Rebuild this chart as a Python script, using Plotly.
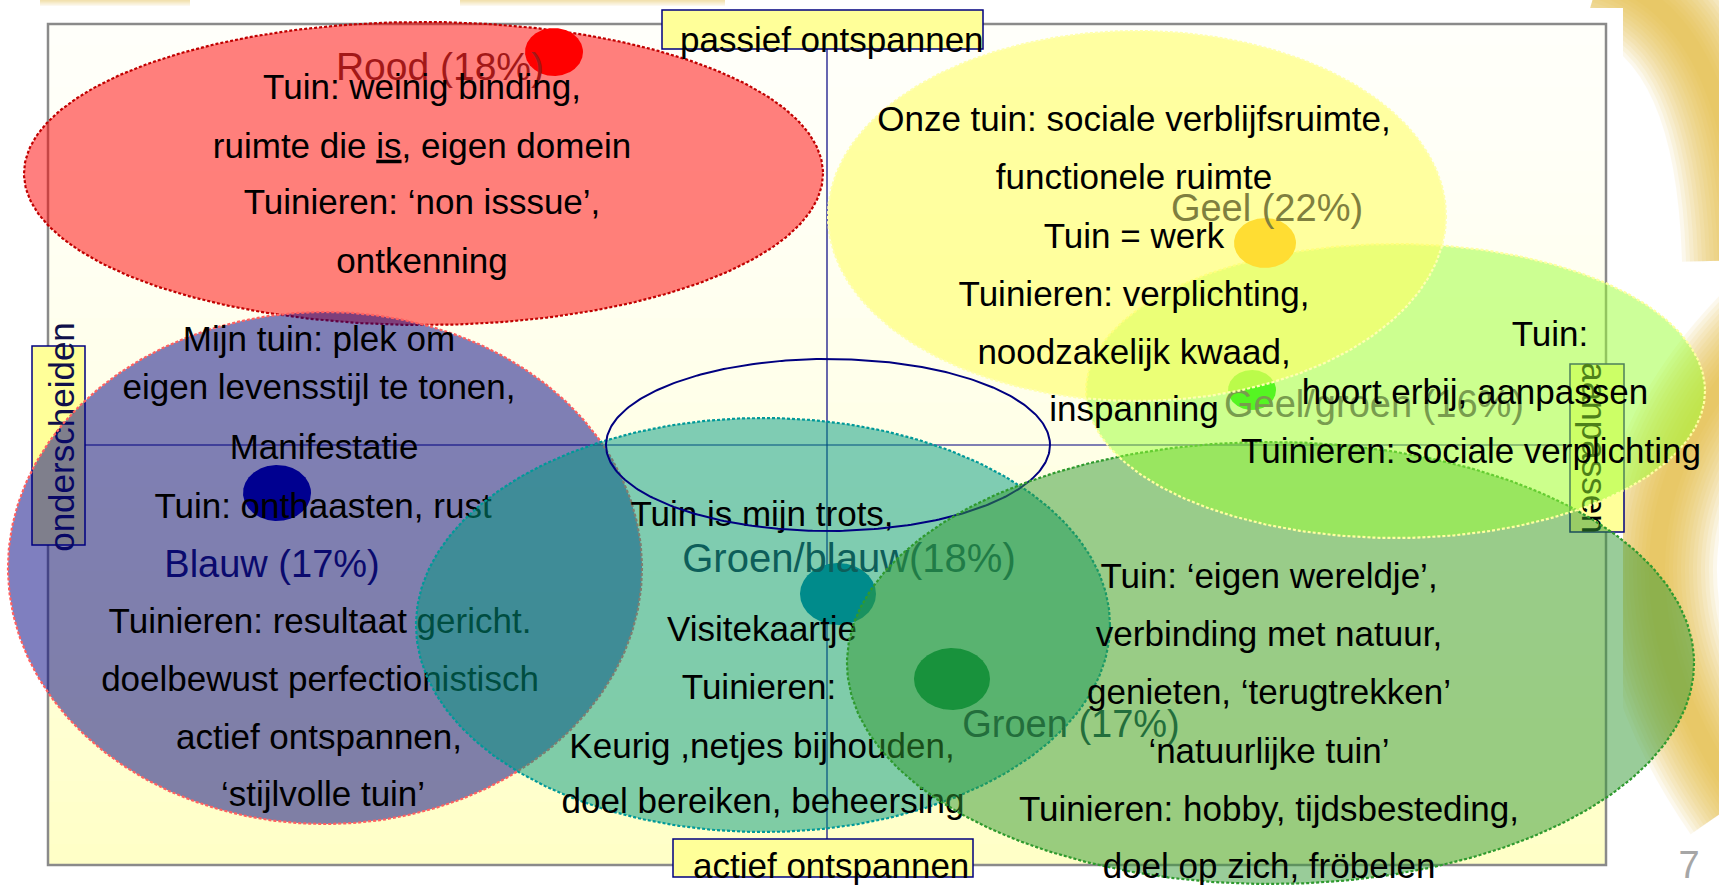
import numpy as np
import plotly.graph_objects as go

# ---------------- data ----------------
segment_names = ["Rood", "Geel", "Geel/groen", "Blauw", "Groen/blauw", "Groen"]
segment_pct = [18, 22, 16, 17, 18, 17]
# dot positions of the segments on the map (slide pixel space)
segment_dot_x = [554, 1265, 1252, 277, 838, 952]
segment_dot_y = [52, 243, 390, 493, 594, 679]

axis_top = "passief ontspannen"
axis_bottom = "actief ontspannen"
axis_left = "onderscheiden"
axis_right = "aanpassen"
slide_number = "7"

text_rood = ["Tuin: weinig binding,", "ruimte die <u>is</u>, eigen domein",
             "Tuinieren: ‘non isssue’,", "ontkenning"]
text_geel = ["Onze tuin: sociale verblijfsruimte,", "functionele ruimte", "Tuin = werk",
             "Tuinieren: verplichting,", "noodzakelijk kwaad,", "inspanning"]
text_geelgroen = ["Tuin:", "hoort erbij, aanpassen", "Tuinieren: sociale verplichting"]
text_blauw = ["Mijn tuin: plek om", "eigen levensstijl te tonen,", "Manifestatie",
              "Tuin: onthaasten, rust", "Tuinieren: resultaat gericht.",
              "doelbewust perfectionistisch", "actief ontspannen,", "‘stijlvolle tuin’"]
text_groenblauw = ["Tuin is mijn trots,", "Visitekaartje", "Tuinieren:",
                   "Keurig ,netjes bijhouden,", "doel bereiken, beheersing"]
text_groen = ["Tuin: ‘eigen wereldje’,", "verbinding met natuur,", "genieten, ‘terugtrekken’",
              "‘natuurlijke tuin’", "Tuinieren: hobby, tijdsbesteding,", "doel op zich, fröbelen"]

segment_texts = {"Rood": text_rood, "Geel": text_geel, "Geel/groen": text_geelgroen,
                 "Blauw": text_blauw, "Groen/blauw": text_groenblauw, "Groen": text_groen}

# ---------------- layout / style ----------------
W, H = 1719, 885
FONT = "Liberation Sans, Arial, sans-serif"
TEXT_DY = 3

ELLIPSE = {  # cx, cy, rx, ry
    "Rood": (423.5, 173.5, 399.5, 151.5),
    "Geel": (1137, 216, 309, 185),
    "Geel/groen": (1395.5, 391, 309.5, 147),
    "Blauw": (325, 568, 317, 256),
    "Groen/blauw": (763, 625, 347, 207),
    "Groen": (1270.5, 663, 423.5, 221),
}
DOT_R = {"Rood": (29, 24), "Geel": (31, 25), "Geel/groen": (24, 20),
         "Blauw": (34, 28), "Groen/blauw": (38, 31), "Groen": (38, 31)}
FILL = {"Rood": "rgba(255,0,0,0.5)", "Geel": "rgba(255,255,102,0.6)",
        "Geel/groen": "rgba(153,255,51,0.5)", "Blauw": "rgba(0,0,128,0.5)",
        "Groen/blauw": "rgba(0,153,128,0.5)", "Groen": "rgba(51,153,51,0.5)"}
BORDER = {"Rood": "#C00000", "Geel": "#FFFFB0", "Geel/groen": "#FFFFA0",
          "Blauw": "#FF6060", "Groen/blauw": "#009999", "Groen": "#2E9A2E"}
DOT_COLOR = {"Rood": "#FF0000", "Geel": "#FFDD33", "Geel/groen": "#55F522",
             "Blauw": "#000090", "Groen/blauw": "#008B8B", "Groen": "#18923C"}
LABEL_COLOR = {"Rood": "#A31818", "Geel": "#7F7F3F", "Geel/groen": "#789C4E",
               "Blauw": "#0A0A6E", "Groen/blauw": "#0D5E5A", "Groen": "#236E3C"}
LABEL_POS = {"Rood": (440, 67), "Geel": (1267, 208), "Geel/groen": (1374, 404),
             "Blauw": (272, 564), "Groen/blauw": (849, 559), "Groen": (1071, 724)}
LABEL_SIZE = {"Rood": 39, "Geel": 38, "Geel/groen": 38, "Blauw": 38,
              "Groen/blauw": 40, "Groen": 38}
LINES_X = {"Rood": [422] * 4, "Geel": [1134] * 6, "Geel/groen": [1550, 1475, 1471],
           "Blauw": [319, 319, 324, 323, 320, 320, 319, 323],
           "Groen/blauw": [762, 762, 759, 762, 763], "Groen": [1269] * 6}
LINES_Y = {"Rood": [87, 146, 202, 261], "Geel": [119, 177, 236, 294, 352, 409],
           "Geel/groen": [334, 392, 451],
           "Blauw": [339, 387, 447, 506, 621, 679, 737, 794],
           "Groen/blauw": [514, 629, 687, 746, 801],
           "Groen": [576, 634, 692, 751, 809, 866]}
DRAW_ORDER = ["Rood", "Blauw", "Groen/blauw", "OUTLINE", "Groen", "Geel/groen", "Geel"]

fig = go.Figure()
t = np.linspace(0, 2 * np.pi, 361)


def ellipse(cx, cy, rx, ry, fill, line_color, line_width, dash):
    fig.add_trace(go.Scatter(
        x=cx + rx * np.cos(t), y=cy + ry * np.sin(t), mode="lines",
        fill="toself" if fill else "none", fillcolor=fill,
        line=dict(color=line_color, width=line_width, dash=dash),
        hoverinfo="skip", showlegend=False))


for key in DRAW_ORDER:
    if key == "OUTLINE":
        ellipse(828, 445, 222, 86, None, "#000080", 2, "solid")
        continue
    i = segment_names.index(key)
    cx, cy, rx, ry = ELLIPSE[key]
    ellipse(cx, cy, rx, ry, FILL[key], BORDER[key], 2.2, "3px,2px")
    drx, dry = DOT_R[key]
    ellipse(segment_dot_x[i], segment_dot_y[i], drx, dry, DOT_COLOR[key], DOT_COLOR[key], 0, "solid")
    lx, ly = LABEL_POS[key]
    fig.add_trace(go.Scatter(
        x=[lx], y=[ly + TEXT_DY], mode="text",
        text=[f"{key} ({segment_pct[i]}%)" if key != "Groen/blauw" else f"{key}({segment_pct[i]}%)"],
        textposition="middle center",
        textfont=dict(family=FONT, size=LABEL_SIZE[key], color=LABEL_COLOR[key]),
        hoverinfo="skip", showlegend=False))
    fig.add_trace(go.Scatter(
        x=LINES_X[key], y=[v + TEXT_DY for v in LINES_Y[key]], mode="text", text=segment_texts[key],
        textposition="middle center",
        textfont=dict(family=FONT, size=35, color="black"),
        hoverinfo="skip", showlegend=False))

# horizontal axis captions (top / bottom)
fig.add_trace(go.Scatter(
    x=[680, 693], y=[43, 869], mode="text", text=[axis_top, axis_bottom],
    textposition="middle right",
    textfont=dict(family=FONT, size=35, color="black"),
    hoverinfo="skip", showlegend=False))
fig.add_trace(go.Scatter(
    x=[1689], y=[868], mode="text", text=[slide_number], textposition="middle center",
    textfont=dict(family=FONT, size=38, color="#A6A6A6"), hoverinfo="skip", showlegend=False))

# ---------------- background shapes ----------------
shapes = []
gold = "#E5B936"
# golden swirl behind the slide content (soft edges through many stacked strokes)
for w in range(120, 14, -8):
    op = 0.085
    shapes.append(dict(type="path", xref="x", yref="y", layer="below",
                       path="M 1600,-25 Q 1735,15 1742,260",
                       line=dict(color=gold, width=w), opacity=op))
    shapes.append(dict(type="path", xref="x", yref="y", layer="below",
                       path="M 1770,330 Q 1560,540 1740,800",
                       line=dict(color=gold, width=w), opacity=op))
    shapes.append(dict(type="path", xref="x", yref="y", layer="below",
                       path="M 40,-6 L 190,-6", line=dict(color=gold, width=w / 5), opacity=op * 0.7))
    shapes.append(dict(type="path", xref="x", yref="y", layer="below",
                       path="M 460,-6 L 725,-6", line=dict(color=gold, width=w / 5), opacity=op * 0.7))
# white content box
shapes.append(dict(type="rect", xref="x", yref="y", layer="below", x0=-5, x1=1623, y0=8, y1=H + 5,
                   fillcolor="white", line=dict(width=0)))
# frame with vertical gradient
fx0, fx1, fy0, fy1 = 48, 1606, 24, 865
nb = 40
for k in range(nb):
    y0 = fy0 + (fy1 - fy0) * k / nb
    y1 = fy0 + (fy1 - fy0) * (k + 1) / nb
    tt = (k + 0.5) / nb
    b = int(round(250 - 52 * tt ** 1.4))
    shapes.append(dict(type="rect", xref="x", yref="y", layer="below", x0=fx0, x1=fx1, y0=y0, y1=y1 + 0.6,
                       fillcolor=f"rgb(255,255,{b})", line=dict(width=0)))
shapes.append(dict(type="rect", xref="x", yref="y", layer="below", x0=fx0, x1=fx1, y0=fy0, y1=fy1,
                   fillcolor="rgba(0,0,0,0)", line=dict(color="#8A8A8A", width=2.5)))
# axis cross
shapes.append(dict(type="line", xref="x", yref="y", layer="below", x0=827, x1=827, y0=49, y1=839,
                   line=dict(color="#000080", width=1.2)))
shapes.append(dict(type="line", xref="x", yref="y", layer="below", x0=85, x1=1570, y0=445, y1=445,
                   line=dict(color="#000080", width=1.2)))
# axis caption boxes
box_style = dict(fillcolor="#FFFF99", line=dict(color="#000080", width=1.5))
shapes.append(dict(type="rect", xref="x", yref="y", layer="below", x0=662, x1=983, y0=10, y1=49, **box_style))
shapes.append(dict(type="rect", xref="x", yref="y", layer="below", x0=673, x1=973, y0=839, y1=877, **box_style))
shapes.append(dict(type="rect", xref="x", yref="y", layer="below", x0=32, x1=85, y0=346, y1=545, **box_style))
shapes.append(dict(type="rect", xref="x", yref="y", layer="below", x0=1570, x1=1624, y0=364, y1=532,
                   fillcolor="#FFFF99", line=dict(color="#000080", width=1.5),
                   label=dict(text=axis_right, textangle=90, textposition="middle center",
                              font=dict(family=FONT, size=35, color="black"))))
# rotated left caption (placed in an invisible box)
shapes.append(dict(type="rect", xref="x", yref="y", layer="below", x0=32, x1=85, y0=320, y1=554,
                   fillcolor="rgba(0,0,0,0)", line=dict(width=0),
                   label=dict(text=axis_left, textangle=-90, textposition="middle center",
                              font=dict(family=FONT, size=35, color="#10104A"))))

fig.update_layout(
    width=W, height=H, margin=dict(l=0, r=0, t=0, b=0),
    paper_bgcolor="white", plot_bgcolor="white",
    xaxis=dict(range=[0, W], visible=False, fixedrange=True),
    yaxis=dict(range=[H, 0], visible=False, fixedrange=True),
    shapes=shapes, showlegend=False,
)

fig.write_html("out.html", config={"displayModeBar": False},
               post_script="document.body.style.margin='0';document.body.style.overflow='hidden';")
